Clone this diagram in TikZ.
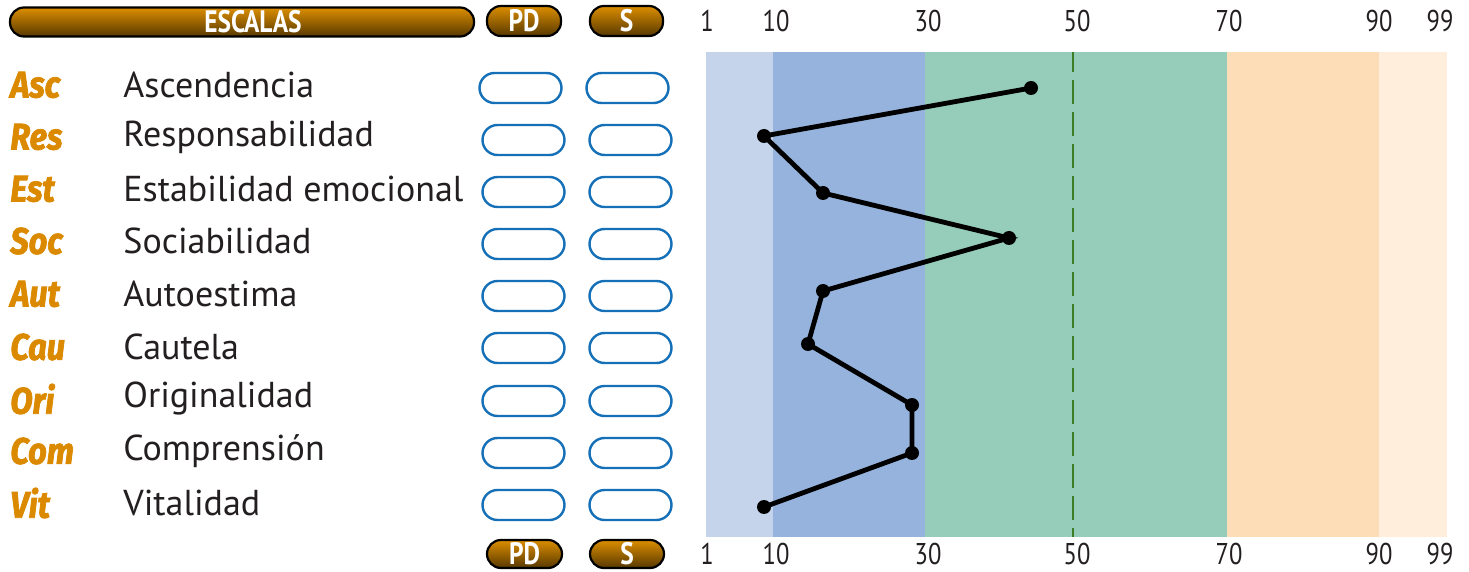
\documentclass[tikz,border=0pt]{standalone}
\usepackage{fontspec}
\setmainfont{PT Sans}
\newfontfamily\condfont[FakeStretch=0.82]{PT Sans}
\newfontfamily\abbfont[FakeStretch=0.88, FakeBold=2]{Fira Sans}
\definecolor{bandA}{HTML}{C5D4EB}
\definecolor{bandB}{HTML}{95B3DC}
\definecolor{bandC}{HTML}{95CDBA}
\definecolor{bandD}{HTML}{FCDDB7}
\definecolor{bandE}{HTML}{FEEEDB}
\definecolor{pilltop}{HTML}{DC8E00}
\definecolor{pillbot}{HTML}{573800}
\definecolor{abbcol}{HTML}{DB8A00}
\definecolor{ovalcol}{HTML}{1570B8}
\definecolor{midline}{HTML}{3C7D28}
\definecolor{textcol}{HTML}{231F20}
\begin{document}
\begin{tikzpicture}[x=0.5pt,y=-0.5pt,
  pill/.style={draw=black, line width=1.1pt, rounded corners=7pt,
    top color=pilltop, bottom color=pillbot, text=white,
    font=\condfont\bfseries\fontsize{15.5}{15.5}\selectfont, inner sep=0pt},
  oval/.style={draw=ovalcol, line width=1.2pt, rounded corners=7.5pt,
    minimum width=41pt, minimum height=15pt, inner sep=0pt},
  abb/.style={anchor=west, text=abbcol, font=\abbfont\bfseries\itshape\fontsize{18.5}{18.5}\selectfont, inner sep=0pt},
  lab/.style={anchor=west, text=textcol, font=\fontsize{18}{18}\selectfont, inner sep=0pt},
  axl/.style={text=textcol, font=\condfont\fontsize{15}{15}\selectfont, inner sep=0pt},
  pt/.style={circle, fill=black, minimum size=7pt, inner sep=0pt},
  dataline/.style={line width=2.4pt, black, line join=miter}
]
\useasboundingbox (0,0) rectangle (1469,572);
\fill[white] (0,0) rectangle (1469,572);
% bands
\fill[bandA] (706,52) rectangle (773,537);
\fill[bandB] (773,52) rectangle (925,537);
\fill[bandC] (925,52) rectangle (1227,537);
\fill[bandD] (1227,52) rectangle (1379,537);
\fill[bandE] (1379,52) rectangle (1447,537);
\coordinate (mtop) at (1073,52);
\coordinate (mbot) at (1073,537);
\draw[midline, line width=1pt, dash pattern=on 12pt off 4pt, dash phase=2pt] (mtop) -- (mbot);
% header pills
\node[pill, minimum width=232pt, minimum height=14.5pt] (escalas) at (242,22) {\hspace*{11pt}ESCALAS};
\node[pill, minimum width=37pt, minimum height=15pt] (pdtop) at (524,21) {PD};
\node[pill, minimum width=36.5pt, minimum height=15pt] (stop) at (626.5,21) {S};
\node[pill, minimum width=37.5pt, minimum height=14pt] (pdbot) at (524.5,554) {PD};
\node[pill, minimum width=37pt, minimum height=14pt] (sbot) at (627,554) {S};
% axis labels
\foreach \v/\x in {1/707,10/776,30/928,50/1077,70/1229,90/1379,99/1440}{
  \node[axl] (top\v) at (\x,21) {\v};
  \node[axl] (bot\v) at (\x,554) {\v};
}
% rows
\foreach \i/\a/\l/\y in {1/Asc/Ascendencia/85, 2/Res/Responsabilidad/137, 3/Est/Estabilidad emocional/189,
  4/Soc/Sociabilidad/241, 5/Aut/Autoestima/294, 6/Cau/Cautela/347, 7/Ori/Originalidad/399,
  8/Com/Comprensión/451, 9/Vit/Vitalidad/503}{
  \node[abb] (abb\i) at (10,\y) {\a};
  \node[lab] (lab\i) at (123,\y) {\l};
}
\node[oval] (pd1) at (520.5,88) {};
\node[oval] (s1) at (627.5,88) {};
\foreach \i/\y in {2/140,3/192,4/244,5/296,6/348,7/401,8/453,9/505}{
  \node[oval] (pd\i) at (523.5,\y) {};
  \node[oval] (s\i) at (630.5,\y) {};
}
% data points
\node[pt] (p1) at (1031,88) {};
\node[pt] (p2) at (764,136) {};
\node[pt] (p3) at (823,193) {};
\node[pt] (p4) at (1009,238) {};
\node[pt] (p5) at (823,291) {};
\node[pt] (p6) at (808,344) {};
\node[pt] (p7) at (912,405) {};
\node[pt] (p8) at (912,453) {};
\node[pt] (p9) at (764,507) {};
\draw[dataline] (p1.center) -- (p2.center) -- (p3.center) -- (p4.center) -- (p5.center)
  -- (p6.center) -- (p7.center) -- (p8.center) -- (p9.center);
\end{tikzpicture}
\end{document}
